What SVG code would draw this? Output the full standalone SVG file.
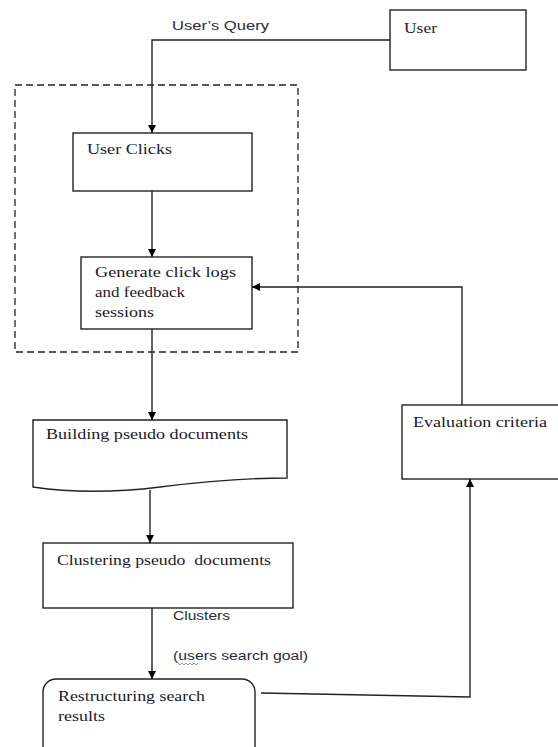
<svg xmlns="http://www.w3.org/2000/svg" width="558" height="747" viewBox="0 0 558 747">
<defs>
<marker id="arr" viewBox="0 0 10 10" refX="10" refY="5" markerWidth="8" markerHeight="8" markerUnits="userSpaceOnUse" orient="auto">
<path d="M0,0 L10,5 L0,10 Z" fill="#000"/>
</marker>
<style>
.box{fill:#fff;stroke:#222;stroke-width:1.4}
.ser{font-family:"Liberation Serif","Times New Roman",serif;font-size:14px;fill:#1a1a2a}
.san{font-family:"Liberation Sans",Arial,sans-serif;font-size:12px;fill:#2a2a3a}
.con{fill:none;stroke:#222;stroke-width:1.4}
</style>
</defs>
<rect width="558" height="747" fill="#fff"/>
<rect x="15" y="85" width="283" height="267" fill="none" stroke="#222" stroke-width="1.3" stroke-dasharray="7 4"/>
<g id="user">
<rect class="box" x="390" y="10" width="136" height="60"/>
<text class="ser" x="404" y="33" textLength="33" lengthAdjust="spacingAndGlyphs">User</text>
</g>
<g id="user-clicks">
<rect class="box" x="73" y="133" width="179" height="58"/>
<text class="ser" x="87" y="154" textLength="85" lengthAdjust="spacingAndGlyphs">User Clicks</text>
</g>
<g id="generate">
<rect class="box" x="81" y="257" width="171" height="72"/>
<text class="ser" x="95" y="277" textLength="141" lengthAdjust="spacingAndGlyphs">Generate click logs</text>
<text class="ser" x="95" y="297" textLength="90" lengthAdjust="spacingAndGlyphs">and feedback</text>
<text class="ser" x="95" y="317" textLength="59" lengthAdjust="spacingAndGlyphs">sessions</text>
</g>
<g id="building">
<path class="box" d="M33,420 L287,420 L287,478 C240,478 200,482 160,487 C120,492 80,494 33,487 Z"/>
<text class="ser" x="46" y="439" textLength="202" lengthAdjust="spacingAndGlyphs">Building pseudo documents</text>
</g>
<g id="evaluation">
<rect class="box" x="402" y="405" width="160" height="74"/>
<text class="ser" x="413" y="427" textLength="134" lengthAdjust="spacingAndGlyphs">Evaluation criteria</text>
</g>
<g id="clustering">
<rect class="box" x="43" y="543" width="250" height="65"/>
<text class="ser" x="57" y="565" textLength="214" lengthAdjust="spacingAndGlyphs" xml:space="preserve">Clustering pseudo  documents</text>
</g>
<g id="restructuring">
<rect class="box" x="43" y="679" width="212" height="90" rx="13" ry="13"/>
<text class="ser" x="58" y="701" textLength="147" lengthAdjust="spacingAndGlyphs">Restructuring search</text>
<text class="ser" x="58" y="721" textLength="47" lengthAdjust="spacingAndGlyphs">results</text>
</g>
<g id="connectors">
<path class="con" d="M390,40 L152,40 L152,133" marker-end="url(#arr)"/>
<text class="san" x="172" y="30" textLength="97" lengthAdjust="spacingAndGlyphs">User’s Query</text>
<path class="con" d="M152,191 L152,257" marker-end="url(#arr)"/>
<path class="con" d="M152,329 L152,420" marker-end="url(#arr)"/>
<path class="con" d="M150,490 L150,543" marker-end="url(#arr)"/>
<path class="con" d="M152,608 L152,679" marker-end="url(#arr)"/>
<text class="san" x="173" y="620" textLength="57" lengthAdjust="spacingAndGlyphs">Clusters</text>
<text class="san" x="173" y="660" textLength="135" lengthAdjust="spacingAndGlyphs">(users search goal)</text>
<path d="M178,663 l2,2 l2,-2 l2,2 l2,-2 l2,2 l2,-2 l2,2 l2,-2 l2,2 l2,-2" fill="none" stroke="#3a3" stroke-width="0.8"/>
<path class="con" d="M261,693 L470,697 L470,479" marker-end="url(#arr)"/>
<path class="con" d="M462,405 L462,287 L252,287" marker-end="url(#arr)"/>
</g>
</svg>
